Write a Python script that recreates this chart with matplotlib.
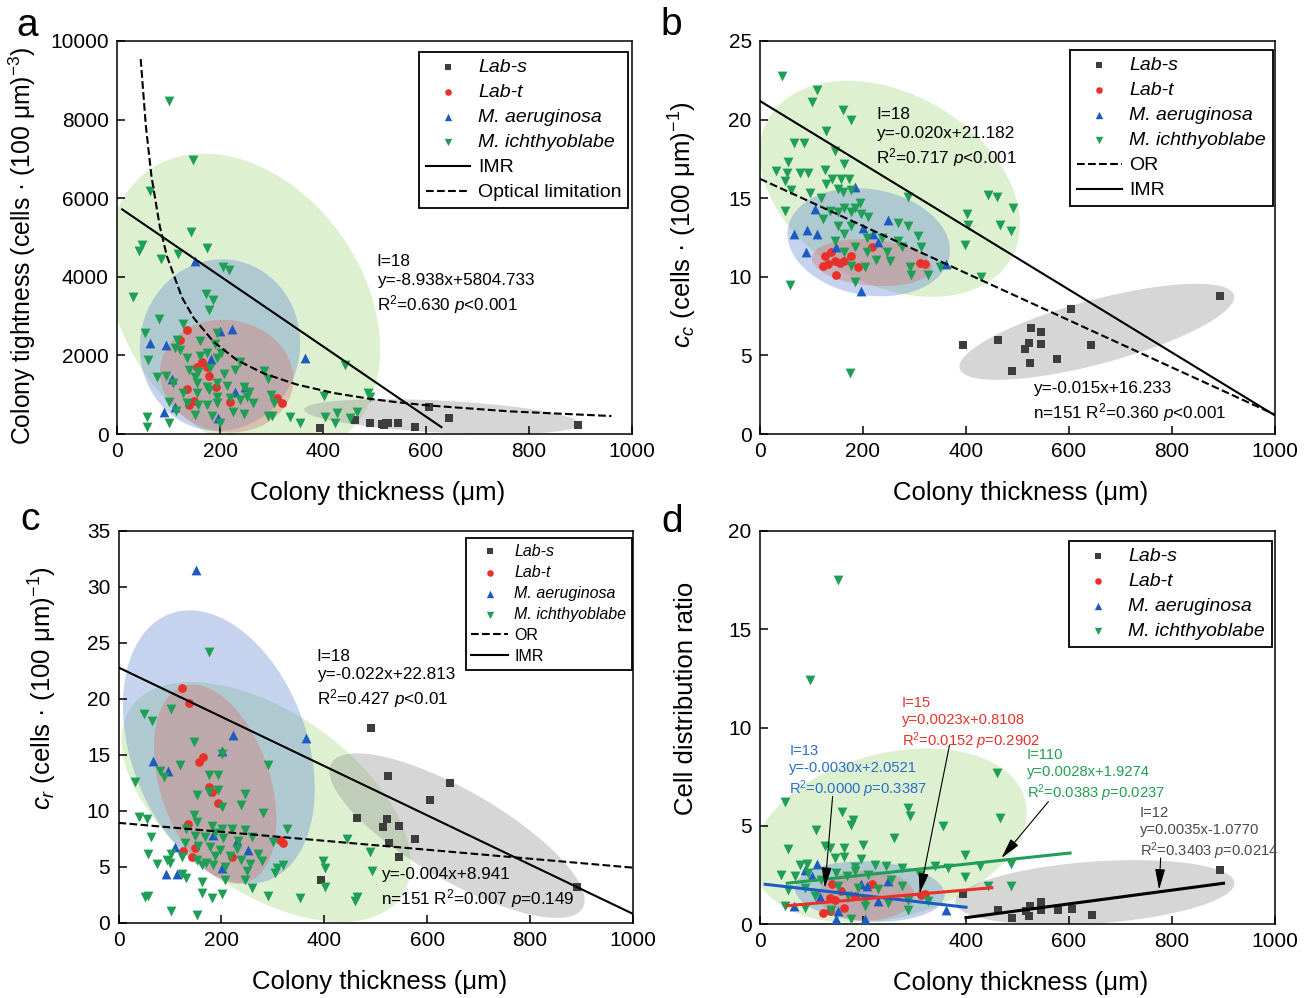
"""Four-panel colony scatter: thickness vs tightness / c_c / c_r / distribution ratio."""
import numpy as np
import matplotlib

matplotlib.use("Agg")
import matplotlib.pyplot as plt  # noqa: E402
from matplotlib.patches import Polygon  # noqa: E402

# ---- data (colony thickness in um, value) ---------------------------------
A_LABS = [(394, 143), (463, 355), (491, 270), (515, 253), (518, 228), (522, 287),
          (526, 287), (546, 270), (578, 186), (606, 694), (645, 397), (895, 228)]
A_LABT = [(136, 2641), (123, 2387), (165, 1837), (155, 1710), (175, 1693), (178, 1473),
          (192, 1202), (136, 1134), (149, 846), (139, 736), (220, 821), (310, 906), (320, 796)]
A_AER = [(152, 4402), (223, 2684), (200, 2616), (65, 2320), (96, 2260), (182, 1896),
         (365, 1922), (107, 1388), (249, 1202), (230, 1075), (91, 567), (113, 694), (197, 398)]
A_ICH = [(101, 8482), (147, 6975), (65, 6179), (144, 5138), (49, 4816), (43, 4647),
         (85, 4461), (119, 4588), (174, 4740), (206, 4249), (218, 4181),
         (31, 3488), (173, 3555), (186, 3420), (81, 2937), (178, 3149), (129, 2810),
         (55, 2573), (194, 2573), (116, 2387), (162, 2370), (123, 2133), (191, 2302),
         (61, 1879), (113, 2176), (162, 1981), (175, 2049), (136, 1922), (202, 2049),
         (194, 1922), (239, 1837), (139, 1625), (158, 1583), (78, 1439), (96, 1473),
         (152, 1456), (181, 1668), (207, 1524), (230, 1625), (285, 1608), (109, 1287),
         (155, 1287), (175, 1202), (194, 1287), (213, 1219), (246, 1202), (257, 1075),
         (294, 1388), (129, 1033), (155, 1033), (178, 1117), (194, 948), (136, 779),
         (158, 736), (175, 736), (194, 779), (220, 906), (238, 863), (253, 931),
         (265, 779), (299, 990), (304, 779), (115, 592), (100, 821), (152, 482),
         (184, 465), (226, 567), (246, 508), (59, 440), (100, 271), (200, 288),
         (294, 457), (301, 457), (336, 440), (356, 271), (401, 965), (443, 1752),
         (404, 440), (427, 525), (466, 567), (488, 1033), (491, 948), (58, 185),
         (423, 287), (453, 397)]
A_IMR = (-8.938, 5804.733)
A_IMR_X = [10, 630]
A_OPT_X = [46, 56, 67, 83, 97, 126, 149, 188, 233, 285, 349, 420, 491, 543, 601, 762, 960]
A_OPT_Y = [9540, 7840, 6550, 5290, 4520, 3480, 2950, 2340, 1880, 1540, 1260, 1045,
           895, 810, 730, 576, 457]

B_LABS = [(394, 5.64), (462, 5.95), (490, 3.98), (514, 5.42), (523, 5.78), (526, 6.74),
          (524, 4.53), (545, 6.46), (545, 5.74), (577, 4.79), (604, 7.97), (643, 5.64),
          (893, 8.75)]
B_LABT = [(218, 11.9), (137, 11.6), (127, 11.3), (145, 11.0), (155, 10.9), (164, 11.0),
          (177, 11.3), (132, 10.8), (122, 10.7), (190, 10.6), (148, 10.1), (310, 10.9),
          (320, 10.8)]
B_AER = [(184, 15.7), (107, 14.3), (66, 12.7), (92, 13.0), (111, 12.7), (90, 11.6),
         (148, 11.9), (200, 13.1), (220, 12.7), (249, 13.6), (229, 12.2), (362, 10.8),
         (197, 9.1)]
B_ICH = [(43, 22.8), (111, 21.9), (101, 21.1), (161, 20.6), (177, 20.0), (129, 19.3),
         (66, 18.5), (85, 18.5), (146, 18.0), (54, 17.3), (164, 17.2), (127, 16.8),
         (32, 16.7), (53, 16.6), (77, 16.6), (93, 16.6), (139, 16.2), (157, 16.2),
         (129, 15.9), (172, 16.2), (49, 16.1), (151, 15.6), (161, 15.4), (177, 15.5),
         (61, 15.5), (98, 15.3), (118, 15.0), (194, 14.7), (164, 14.4), (184, 14.4),
         (49, 14.2), (135, 14.2), (151, 14.1), (177, 14.1), (197, 14.0), (210, 13.8),
         (288, 15.1), (122, 13.7), (268, 13.4), (151, 13.2), (177, 13.2), (207, 12.5),
         (236, 12.5), (164, 12.7), (145, 12.3), (288, 13.2), (307, 12.6), (268, 12.3),
         (184, 11.9), (207, 11.6), (164, 11.6), (247, 11.6), (226, 11.1), (252, 11.0),
         (275, 11.9), (313, 11.9), (291, 10.6), (177, 10.7), (203, 10.6), (294, 10.1),
         (326, 10.1), (184, 9.7), (58, 9.5), (401, 14.0), (404, 13.3), (399, 12.0),
         (430, 10.0), (442, 15.2), (461, 15.1), (492, 14.4), (466, 13.3), (488, 12.9),
         (349, 10.6), (174, 3.9)]
B_IMR = (-0.020, 21.182)
B_OR = (-0.015, 16.233)

C_LABS = [(490, 17.4), (523, 13.1), (644, 12.5), (605, 11.0), (463, 9.4), (521, 9.3),
          (515, 8.6), (546, 8.7), (576, 7.5), (526, 7.1), (546, 5.9), (394, 3.8), (892, 3.2)]
C_LABT = [(124, 21.0), (137, 19.6), (157, 14.4), (165, 14.8), (176, 12.1), (181, 11.7),
          (193, 10.7), (136, 8.8), (149, 6.7), (126, 6.4), (142, 5.9), (220, 5.9),
          (314, 7.4), (320, 7.1)]
C_AER = [(223, 16.8), (364, 16.5), (201, 15.4), (68, 14.5), (97, 13.6), (251, 6.5),
         (109, 6.8), (184, 7.9), (230, 7.3), (92, 4.4), (113, 4.4), (201, 4.9), (151, 31.5)]
C_ICH = [(50, 18.7), (66, 18.0), (102, 19.1), (147, 16.2), (120, 14.1), (201, 15.1),
         (291, 14.1), (81, 13.6), (89, 13.0), (175, 13.2), (194, 13.2), (32, 12.6),
         (152, 11.4), (175, 11.7), (194, 11.9), (246, 11.5), (201, 10.4), (239, 10.5),
         (281, 9.8), (147, 9.6), (39, 9.5), (55, 9.3), (152, 9.0), (181, 8.7), (201, 8.4),
         (220, 8.4), (246, 8.3), (327, 8.4), (132, 8.4), (64, 7.7), (149, 7.8), (168, 7.7),
         (188, 8.0), (204, 7.6), (233, 7.3), (259, 7.7), (301, 7.2), (129, 7.1), (155, 6.9),
         (178, 6.8), (197, 6.5), (230, 6.6), (272, 6.2), (58, 6.2), (103, 6.2), (123, 5.9),
         (152, 5.6), (171, 5.4), (188, 6.0), (217, 6.0), (239, 5.6), (256, 5.3), (100, 5.4),
         (74, 5.3), (94, 5.6), (162, 5.2), (184, 5.2), (207, 5.0), (278, 5.5), (249, 4.6),
         (309, 4.9), (320, 5.2), (304, 4.5), (123, 4.4), (132, 4.0), (162, 3.7), (207, 3.8),
         (246, 3.8), (398, 5.5), (401, 4.9), (401, 3.2), (444, 7.5), (489, 6.3), (492, 4.6),
         (259, 3.1), (291, 2.4), (353, 2.2), (460, 2.0), (463, 2.3), (52, 2.3), (58, 2.4),
         (162, 2.7), (181, 2.2), (201, 2.6), (102, 1.1), (152, 0.7), (175, 24.2)]
C_IMR = (-0.022, 22.813)
C_OR = (-0.004, 8.941)

D_LABS = [(394, 1.53), (462, 0.70), (490, 0.31), (516, 0.65), (524, 0.94), (523, 0.40),
          (545, 1.11), (545, 0.70), (578, 0.69), (605, 0.77), (644, 0.48), (893, 2.77)]
D_LABT = [(140, 2.04), (218, 2.05), (135, 1.33), (145, 1.24), (164, 0.82), (122, 0.57),
          (135, 0.65), (313, 1.50), (320, 1.55), (184, 1.41), (158, 1.67)]
D_AER = [(111, 3.07), (87, 2.77), (197, 2.05), (249, 2.17), (66, 0.90), (116, 1.38),
         (151, 0.65), (230, 1.16), (362, 0.73), (203, 0.23), (148, 0.23), (207, 1.92),
         (100, 2.43)]
D_ICH = [(49, 6.2), (461, 7.7), (288, 5.9), (291, 5.5), (466, 5.4), (159, 5.7), (181, 5.3),
         (176, 5.05), (109, 4.8), (356, 5.0), (260, 4.4), (126, 3.95), (135, 3.86),
         (163, 3.86), (200, 4.0), (54, 3.8), (77, 3.0), (92, 3.07), (145, 3.36), (163, 3.4),
         (197, 3.3), (398, 3.5), (399, 2.4), (184, 2.9), (223, 3.02), (245, 2.97),
         (275, 2.85), (339, 2.94), (365, 2.85), (427, 2.97), (488, 3.07), (41, 2.5),
         (67, 2.46), (93, 2.6), (119, 2.26), (148, 2.6), (168, 2.46), (184, 2.68),
         (210, 2.5), (255, 2.26), (310, 2.5), (54, 1.75), (87, 1.83), (152, 1.92),
         (190, 1.83), (229, 1.78), (275, 1.92), (443, 1.92), (487, 1.92), (106, 1.41),
         (171, 1.45), (203, 1.24), (249, 1.07), (288, 1.24), (326, 1.16), (48, 0.9),
         (87, 0.82), (138, 0.73), (203, 0.9), (288, 0.73), (177, 0.23), (151, 17.5),
         (98, 12.4)]
# per-group regression: slope, intercept, x from, x to
D_FITS = {
    "M. aeruginosa": (-0.0030, 2.0521, 10, 400),
    "Lab-t": (0.0023, 0.8108, 53, 450),
    "M. ichthyoblabe": (0.0028, 1.9274, 53, 602),
    "Lab-s": (0.0035, -1.0770, 400, 900),
}

# ---- styling ----------------------------------------------------------------
W, H = 1311, 998
SPECIES = ["Lab-s", "Lab-t", "M. aeruginosa", "M. ichthyoblabe"]
MARK = {
    "Lab-s": dict(marker="s", color="#3d3d3d", s=26),
    "Lab-t": dict(marker="o", color="#e8312a", s=40),
    "M. aeruginosa": dict(marker="^", color="#1c5cc0", s=50),
    "M. ichthyoblabe": dict(marker="v", color="#1f9e55", s=50),
}
FILL = {
    "M. ichthyoblabe": ("#9fd47a", 0.35),
    "M. aeruginosa": ("#5b82d0", 0.35),
    "Lab-t": ("#d47a76", 0.40),
    "Lab-s": ("#8c8c8c", 0.35),
}
TEXT_COL = {"Lab-s": "#4a4a4a", "Lab-t": "#e8312a",
            "M. aeruginosa": "#2a6ec8", "M. ichthyoblabe": "#22a050"}

plt.rcParams.update({
    "font.family": ["Liberation Sans", "DejaVu Sans"],
    "mathtext.fontset": "custom",
    "mathtext.rm": "Liberation Sans",
    "mathtext.it": "Liberation Sans:italic",
    "mathtext.bf": "Liberation Sans:bold",
    "axes.linewidth": 1.1,
    "xtick.direction": "in",
    "ytick.direction": "in",
    "xtick.major.size": 6,
    "ytick.major.size": 6,
    "xtick.major.width": 1.1,
    "ytick.major.width": 1.1,
    "xtick.major.pad": 6,
    "ytick.major.pad": 6,
    "xtick.labelsize": 15,
    "ytick.labelsize": 15,
})


def px_axes(fig, left, top, right, bottom):
    return fig.add_axes([left / W, 1 - bottom / H, (right - left) / W, (bottom - top) / H])


def add_ellipse(ax, cx, cy, a_px, b_px, angle, group):
    """Shaded group region: centre in data units, semi-axes in pixels."""
    t = np.linspace(0, 2 * np.pi, 240)
    th = np.deg2rad(angle)
    ex, ey = a_px * np.cos(t), b_px * np.sin(t)
    dx = ex * np.cos(th) - ey * np.sin(th)
    dy = ex * np.sin(th) + ey * np.cos(th)
    x0, y0 = ax.transData.transform((cx, cy))
    pts = ax.transData.inverted().transform(np.column_stack([x0 + dx, y0 + dy]))
    fc, al = FILL[group]
    ax.add_patch(Polygon(pts, closed=True, fc=fc, ec="none", alpha=al, zorder=1))


def scatter_groups(ax, groups):
    handles = {}
    for name in ["Lab-s", "Lab-t", "M. aeruginosa", "M. ichthyoblabe"]:
        xs, ys = zip(*groups[name])
        handles[name] = ax.scatter(xs, ys, label=name, linewidths=0, zorder=3, **MARK[name])
    return [handles[n] for n in SPECIES]


def fit_line(ax, coef, x_span, **kw):
    xs = np.array(x_span, dtype=float)
    return ax.plot(xs, np.polyval(coef, xs), color="black", lw=1.5, zorder=4, **kw)[0]


def add_legend(ax, handles, fontsize, anchor, spacing):
    leg = ax.legend(handles=handles, loc="upper right", bbox_to_anchor=anchor,
                    fontsize=fontsize, fancybox=False, framealpha=1, edgecolor="black",
                    borderaxespad=0, handlelength=2.3, handletextpad=0.4,
                    labelspacing=spacing, borderpad=0.35, markerscale=0.75)
    leg.get_frame().set_linewidth(1.3)
    for t in leg.get_texts():
        if t.get_text() in SPECIES:
            t.set_fontstyle("italic")
    return leg


def style_axes(ax, ymax, ystep, ylabel, ylab_xy, ylab_size=18.5):
    ax.set_xlim(0, 1000)
    ax.set_ylim(0, ymax)
    ax.set_xticks(np.arange(0, 1001, 200))
    ax.set_yticks(np.arange(0, ymax + 1e-9, ystep))
    ax.set_xlabel("Colony thickness (μm)", fontsize=18.5, va="center")
    ax.xaxis.set_label_coords(0.507, -0.151)
    ax.set_ylabel(ylabel, fontsize=ylab_size, va="center")
    ax.yaxis.set_label_coords(*ylab_xy)


fig = plt.figure(figsize=(W / 100, H / 100), dpi=100)
ax_a = px_axes(fig, 117, 41, 632, 434)
ax_b = px_axes(fig, 760, 41, 1275, 434)
ax_c = px_axes(fig, 118.5, 531, 633, 923)
ax_d = px_axes(fig, 760, 531, 1275, 924)

style_axes(ax_a, 10000, 2000, "Colony tightness (cells · (100 μm)$^{-3}$)", (-0.183, 0.48), 17.8)
style_axes(ax_b, 25, 5, "$c_c$ (cells · (100 μm)$^{-1}$)", (-0.150, 0.532))
style_axes(ax_c, 35, 5, "$c_r$ (cells · (100 μm)$^{-1}$)", (-0.147, 0.598))
style_axes(ax_d, 20, 5, "Cell distribution ratio", (-0.144, 0.575))

# ---- panel a ----------------------------------------------------------------
add_ellipse(ax_a, 246, 3276, 165, 120, -55, "M. ichthyoblabe")
add_ellipse(ax_a, 200, 2260, 86, 80, 80, "M. aeruginosa")
add_ellipse(ax_a, 213, 1473, 67, 56, -10, "Lab-t")
add_ellipse(ax_a, 631, 440, 138, 16, -3, "Lab-s")
hs = scatter_groups(ax_a, {"Lab-s": A_LABS, "Lab-t": A_LABT,
                           "M. aeruginosa": A_AER, "M. ichthyoblabe": A_ICH})
imr = fit_line(ax_a, A_IMR, A_IMR_X, ls="-", label="IMR")
opt, = ax_a.plot(A_OPT_X, A_OPT_Y, color="black", lw=1.5, ls="--", zorder=4,
                 label="Optical limitation")
add_legend(ax_a, hs + [imr, opt], 14, (0.993, 0.972), 0.38)
ax_a.text(504, 4571, "I=18\ny=-8.938x+5804.733\nR$^2$=0.630 $\\mathit{p}$<0.001",
          fontsize=12.3, va="top", ha="left", linespacing=1.3)

# ---- panel b ----------------------------------------------------------------
add_ellipse(ax_b, 252, 15.6, 140, 95, -30, "M. ichthyoblabe")
add_ellipse(ax_b, 211, 12.2, 82, 53, -10, "M. aeruginosa")
add_ellipse(ax_b, 217, 10.9, 60, 23, -5, "Lab-t")
add_ellipse(ax_b, 654, 6.5, 142, 32, 15, "Lab-s")
hs = scatter_groups(ax_b, {"Lab-s": B_LABS, "Lab-t": B_LABT,
                           "M. aeruginosa": B_AER, "M. ichthyoblabe": B_ICH})
orl = fit_line(ax_b, B_OR, [0, 1000], ls="--", label="OR")
imr = fit_line(ax_b, B_IMR, [0, 1000], ls="-", label="IMR")
add_legend(ax_b, hs + [orl, imr], 14, (0.996, 0.977), 0.38)
ax_b.text(226, 20.78, "I=18\ny=-0.020x+21.182\nR$^2$=0.717 $\\mathit{p}$<0.001",
          fontsize=12.3, va="top", ha="left", linespacing=1.3)
ax_b.text(530, 3.35, "y=-0.015x+16.233\nn=151 R$^2$=0.360 $\\mathit{p}$<0.001",
          fontsize=12.3, va="top", ha="left", linespacing=1.3)

# ---- panel c ----------------------------------------------------------------
add_ellipse(ax_c, 287, 10.8, 165, 90, -35, "M. ichthyoblabe")
add_ellipse(ax_c, 195, 15.7, 142, 88, -70, "M. aeruginosa")
add_ellipse(ax_c, 188, 12.4, 103, 55, -72, "Lab-t")
add_ellipse(ax_c, 658, 7.8, 145, 45, -30, "Lab-s")
hs = scatter_groups(ax_c, {"Lab-s": C_LABS, "Lab-t": C_LABT,
                           "M. aeruginosa": C_AER, "M. ichthyoblabe": C_ICH})
orl = fit_line(ax_c, C_OR, [0, 1000], ls="--", label="OR")
imr = fit_line(ax_c, C_IMR, [0, 1000], ls="-", label="IMR")
add_legend(ax_c, hs + [orl, imr], 11.5, (0.998, 0.982), 0.38)
ax_c.text(385, 24.5, "I=18\ny=-0.022x+22.813\nR$^2$=0.427 $\\mathit{p}$<0.01",
          fontsize=12.3, va="top", ha="left", linespacing=1.3)
ax_c.text(511, 4.97, "y=-0.004x+8.941\nn=151 R$^2$=0.007 $\\mathit{p}$=0.149",
          fontsize=12.3, va="top", ha="left", linespacing=1.3)

# ---- panel d ----------------------------------------------------------------
add_ellipse(ax_d, 252, 4.5, 140, 82, 15, "M. ichthyoblabe")
add_ellipse(ax_d, 213, 1.65, 75, 30, -3, "M. aeruginosa")
add_ellipse(ax_d, 207, 1.45, 48, 25, 0, "Lab-t")
add_ellipse(ax_d, 650, 1.6, 140, 31, 4, "Lab-s")
hs = scatter_groups(ax_d, {"Lab-s": D_LABS, "Lab-t": D_LABT,
                           "M. aeruginosa": D_AER, "M. ichthyoblabe": D_ICH})
line_col = {"Lab-s": "black", "Lab-t": "#e8312a",
            "M. aeruginosa": "#1c5cc0", "M. ichthyoblabe": "#1f9e55"}
for name, (m, b, x0, x1) in D_FITS.items():
    xs = np.array([x0, x1], dtype=float)
    ax_d.plot(xs, np.polyval((m, b), xs), color=line_col[name], lw=2.2, zorder=4)
add_legend(ax_d, hs, 14, (0.994, 0.975), 0.38)

D_NOTES = [
    ("M. aeruginosa", (57, 9.15), "I=13\ny=-0.0030x+2.0521\nR$^2$=0.0000 $\\mathit{p}$=0.3387",
     (141, 6.49), (126, 1.84)),
    ("Lab-t", (275, 11.6), "I=15\ny=0.0023x+0.8108\nR$^2$=0.0152 $\\mathit{p}$=0.2902",
     (368, 9.11), (310, 1.55)),
    ("M. ichthyoblabe", (518, 8.96), "I=110\ny=0.0028x+1.9274\nR$^2$=0.0383 $\\mathit{p}$=0.0237",
     (560, 6.23), (469, 3.36)),
    ("Lab-s", (738, 6.0), "I=12\ny=0.0035x-1.0770\nR$^2$=0.3403 $\\mathit{p}$=0.0214",
     (778, 3.36), (775, 1.75)),
]
for name, (tx, ty), txt, start, tip in D_NOTES:
    ax_d.text(tx, ty, txt, color=TEXT_COL[name], fontsize=10.6, va="top", ha="left",
              linespacing=1.25, zorder=5)
    ax_d.annotate("", xy=tip, xytext=start, zorder=5,
                  arrowprops=dict(arrowstyle="-|>,head_length=0.9,head_width=0.22",
                                  color="black", lw=0.8, shrinkA=0, shrinkB=0,
                                  mutation_scale=14))

# panel letters
for letter, (x, y) in {"a": (16, 36), "b": (660, 35), "c": (20, 530), "d": (661, 532)}.items():
    fig.text(x / W, 1 - y / H, letter, fontsize=28, ha="left", va="baseline")

fig.savefig("out.png", dpi=100)
